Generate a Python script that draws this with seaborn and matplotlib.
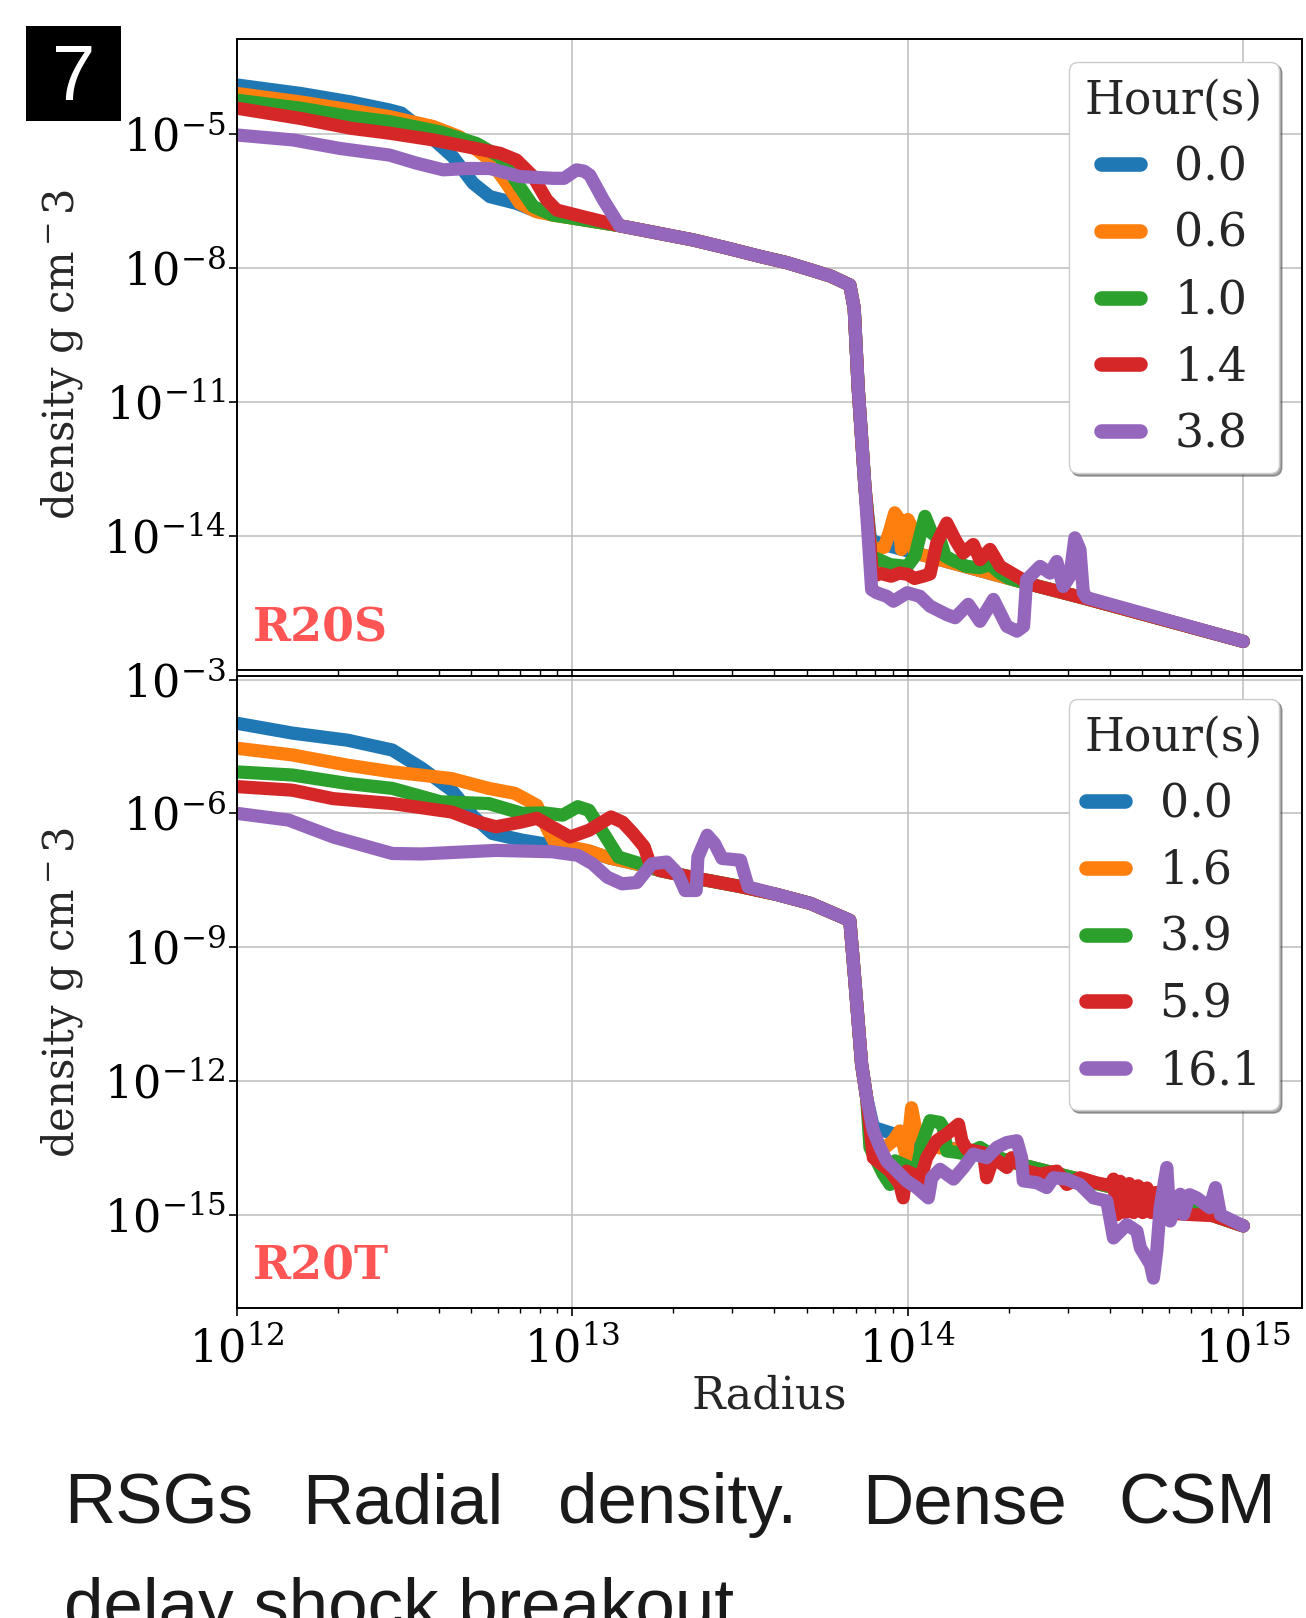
import matplotlib
matplotlib.use("Agg")
import numpy as np
import pandas as pd
import matplotlib.pyplot as plt
import matplotlib.ticker as mticker
from matplotlib.patches import Rectangle
import seaborn as sns

# ------------------------------------------------------------------
# Radial density profiles (log10 radius [cm], log10 density [g cm^-3])
# ------------------------------------------------------------------
COLORS = ["#1f77b4", "#ff7f0e", "#2ca02c", "#d62728", "#9467bd"]

# ---------------- R20S ----------------
S_HOURS = ["0.0", "0.6", "1.0", "1.4", "3.8"]

S_ENV_LOGR = [13.14, 13.25, 13.36, 13.46, 13.56, 13.64, 13.71, 13.77, 13.827]
S_ENV_LOGRHO = [-7.05, -7.21, -7.37, -7.55, -7.74, -7.88, -8.04, -8.18, -8.38]
S_DROP_LOGR = [13.84, 13.852, 13.872]
S_DROP_LOGRHO = [-8.9, -10.7, -12.9]
S_WIND_LOGR = [13.90, 14.35, 14.53, 15.0]
S_WIND_LOGRHO = [-14.13, -15.05, -15.40, -16.36]

S00_IN_LOGR = [12.0, 12.19, 12.34, 12.455, 12.49, 12.565, 12.644, 12.704, 12.754, 12.833, 12.883, 12.94]
S00_IN_LOGRHO = [-3.90, -4.09, -4.28, -4.46, -4.53, -4.98, -5.51, -6.10, -6.40, -6.55, -6.70, -6.80]
S00_CSM_LOGR = [13.888]
S00_CSM_LOGRHO = [-14.05]

S06_IN_LOGR = [12.0, 12.19, 12.34, 12.455, 12.585, 12.664, 12.754, 12.803, 12.843, 12.893, 12.94]
S06_IN_LOGRHO = [-4.09, -4.28, -4.46, -4.61, -4.83, -5.06, -5.58, -6.10, -6.55, -6.74, -6.81]
S06_CSM_LOGR = [13.888, 13.90, 13.93, 13.945, 13.961, 13.972, 13.981, 13.99, 14.0, 14.012, 14.021, 14.056]
S06_CSM_LOGRHO = [-14.2, -14.3, -14.25, -13.9, -13.48, -13.6, -14.30, -14.0, -13.63, -13.8, -14.38, -14.45]

S10_IN_LOGR = [12.0, 12.19, 12.34, 12.455, 12.605, 12.714, 12.784, 12.843, 12.883, 12.94]
S10_IN_LOGRHO = [-4.24, -4.42, -4.61, -4.72, -4.95, -5.21, -5.51, -6.18, -6.62, -6.81]
S10_CSM_LOGR = [13.89, 13.92, 13.947, 13.998, 14.021, 14.036, 14.051, 14.071, 14.096, 14.111,
                14.13, 14.175, 14.215, 14.245, 14.275, 14.30]
S10_CSM_LOGRHO = [-14.45, -14.55, -14.64, -14.68, -14.45, -14.0, -13.56, -13.93, -14.08, -14.45,
                  -14.53, -14.68, -14.71, -14.64, -14.83, -14.94]

S14_IN_LOGR = [12.0, 12.19, 12.34, 12.455, 12.585, 12.684, 12.784, 12.833, 12.883, 12.923, 12.953, 13.032]
S14_IN_LOGRHO = [-4.42, -4.65, -4.87, -4.98, -5.13, -5.28, -5.43, -5.58, -5.95, -6.47, -6.70, -6.85]
S14_CSM_LOGR = [13.895, 13.92, 13.95, 13.975, 14.0, 14.02, 14.045, 14.066, 14.086, 14.116, 14.141,
                14.165, 14.195, 14.215, 14.245, 14.275, 14.334, 14.36]
S14_CSM_LOGRHO = [-14.9, -14.84, -14.9, -14.83, -14.86, -14.95, -14.9, -14.85, -14.16, -13.71, -14.08,
                  -14.38, -14.19, -14.53, -14.30, -14.68, -14.94, -15.07]

S38_IN_LOGR = [12.0, 12.167, 12.306, 12.455, 12.535, 12.615, 12.684, 12.754, 12.843, 12.943, 12.975,
               13.012, 13.035, 13.052, 13.092]
S38_IN_LOGRHO = [-5.02, -5.13, -5.32, -5.47, -5.65, -5.80, -5.77, -5.77, -5.95, -5.99, -5.99,
                 -5.80, -5.83, -5.92, -6.47]
S38_CSM_LOGR = [13.892, 13.907, 13.937, 13.957, 13.998, 14.036, 14.066, 14.116, 14.141, 14.18, 14.215,
                14.255, 14.295, 14.325, 14.345, 14.354, 14.394, 14.424, 14.444, 14.463, 14.483, 14.498,
                14.513, 14.523, 14.533]
S38_CSM_LOGRHO = [-15.2, -15.27, -15.35, -15.46, -15.27, -15.35, -15.57, -15.76, -15.83, -15.53, -15.91,
                  -15.42, -16.02, -16.13, -16.02, -14.98, -14.68, -14.83, -14.57, -15.13, -14.90, -14.04,
                  -14.30, -15.27, -15.38]

# ---------------- R20T ----------------
T_HOURS = ["0.0", "1.6", "3.9", "5.9", "16.1"]

T_ENV_LOGR = [13.2, 13.26, 13.38, 13.5, 13.61, 13.71, 13.827]
T_ENV_LOGRHO = [-7.15, -7.28, -7.47, -7.64, -7.82, -8.02, -8.40]
T_DROP_LOGR = [13.842, 13.862, 13.877]
T_DROP_LOGRHO = [-9.75, -11.62, -12.37]
T_WIND_LOGR = [14.15, 14.215, 14.334, 14.493, 14.613, 14.732, 14.91, 15.0]
T_WIND_LOGRHO = [-13.53, -13.6, -13.87, -14.17, -14.39, -14.62, -15.02, -15.25]

T00_IN_LOGR = [12.0, 12.165, 12.33, 12.463, 12.551, 12.64, 12.706, 12.761, 12.85, 12.938, 13.049, 13.11]
T00_IN_LOGRHO = [-3.98, -4.20, -4.36, -4.58, -4.99, -5.48, -6.08, -6.45, -6.60, -6.71, -6.85, -7.0]
T00_CSM_LOGR = [13.897, 13.947, 14.026, 14.09]
T00_CSM_LOGRHO = [-13.04, -13.16, -13.38, -13.47]

T16_IN_LOGR = [12.0, 12.165, 12.33, 12.463, 12.64, 12.75, 12.828, 12.894, 12.927, 12.949, 13.049, 13.11]
T16_IN_LOGRHO = [-4.54, -4.69, -4.92, -5.07, -5.22, -5.44, -5.55, -5.82, -6.38, -6.68, -6.84, -7.0]
T16_CSM_LOGR = [13.89, 13.90, 13.93, 13.957, 13.976, 13.996, 14.011, 14.026, 14.05, 14.096]
T16_CSM_LOGRHO = [-13.2, -13.72, -13.5, -13.34, -13.12, -13.72, -12.6, -13.19, -13.4, -13.5]

T39_IN_LOGR = [12.0, 12.165, 12.33, 12.463, 12.607, 12.75, 12.85, 12.916, 12.971, 13.016, 13.049,
               13.093, 13.137, 13.203]
T39_IN_LOGRHO = [-5.07, -5.14, -5.33, -5.44, -5.74, -5.78, -6.0, -5.99, -6.04, -5.85, -5.93,
                 -6.45, -6.98, -7.13]
T39_CSM_LOGR = [13.887, 13.927, 13.947, 13.962, 14.006, 14.026, 14.041, 14.066, 14.096, 14.106,
                14.116, 14.146, 14.175, 14.215, 14.26]
T39_CSM_LOGRHO = [-13.49, -14.09, -14.32, -13.79, -13.94, -14.02, -13.42, -12.89, -12.93, -13.05,
                  -13.57, -13.6, -13.64, -13.49, -13.7]

T59_IN_LOGR = [12.0, 12.165, 12.287, 12.463, 12.64, 12.717, 12.772, 12.85, 12.894, 12.938, 12.993,
               13.049, 13.115, 13.15, 13.181, 13.214, 13.231]
T59_IN_LOGRHO = [-5.40, -5.48, -5.67, -5.78, -5.97, -6.19, -6.30, -6.19, -6.11, -6.30, -6.53,
                 -6.38, -6.08, -6.2, -6.45, -6.75, -7.13]
T59_CSM_LOGR = [13.897, 13.947, 13.976, 13.986, 13.996, 14.016, 14.036, 14.056, 14.086, 14.116, 14.151,
                14.161, 14.175, 14.225, 14.235, 14.255, 14.295, 14.31, 14.354, 14.394, 14.444, 14.474,
                14.513, 14.56, 14.605, 14.613, 14.623, 14.633, 14.648, 14.66, 14.673, 14.686, 14.70,
                14.713, 14.726, 14.74, 14.76, 14.832]
T59_CSM_LOGRHO = [-13.72, -14.02, -14.32, -14.62, -14.02, -14.09, -14.24, -13.72, -13.34, -13.19, -12.97,
                  -13.34, -13.53, -13.61, -14.17, -13.72, -13.94, -13.72, -14.02, -14.09, -14.02, -14.32,
                  -14.17, -14.28, -14.35, -14.2, -15.0, -14.25, -14.95, -14.3, -14.95, -14.35, -14.95,
                  -14.4, -14.95, -14.5, -14.95, -14.99]

T161_IN_LOGR = [12.0, 12.154, 12.287, 12.463, 12.551, 12.772, 12.938, 13.016, 13.06, 13.104, 13.148,
                13.192, 13.237, 13.281, 13.314, 13.336, 13.369, 13.374, 13.402, 13.424, 13.446, 13.501,
                13.524]
T161_IN_LOGRHO = [-6.0, -6.15, -6.53, -6.90, -6.91, -6.83, -6.86, -6.94, -7.13, -7.43, -7.58,
                  -7.55, -7.13, -7.09, -7.35, -7.73, -7.73, -6.98, -6.49, -6.68, -7.01, -7.05,
                  -7.65]
T161_CSM_LOGR = [13.897, 13.917, 13.937, 13.967, 13.996, 14.026, 14.061, 14.071, 14.096, 14.136, 14.166,
                 14.195, 14.235, 14.265, 14.295, 14.325, 14.339, 14.344, 14.384, 14.414, 14.434, 14.474,
                 14.513, 14.553, 14.593, 14.613, 14.653, 14.683, 14.693, 14.723, 14.732, 14.742, 14.752,
                 14.772, 14.782, 14.812, 14.822, 14.84, 14.861, 14.90, 14.917, 14.932, 15.0]
T161_CSM_LOGRHO = [-13.12, -13.49, -13.8, -14.02, -14.24, -14.39, -14.62, -14.17, -13.98, -14.2, -13.94,
                   -13.64, -13.72, -13.49, -13.38, -13.34, -13.72, -14.24, -14.28, -14.39, -14.17, -14.2,
                   -14.32, -14.62, -14.69, -15.52, -15.22, -15.37, -15.74, -16.11, -16.42, -15.82, -14.84,
                   -13.94, -15.14, -14.54, -14.99, -14.55, -14.62, -14.84, -14.39, -15.0, -15.25]


def after(xs, ys, x0):
    """Points of a shared segment lying beyond radius x0."""
    return [x for x in xs if x > x0], [y for x, y in zip(xs, ys) if x > x0]


def profile(inner, env, drop, csm, wind):
    """Chain inner, envelope, drop, CSM and wind pieces into one profile."""
    xs, ys = list(inner[0]), list(inner[1])
    ex, ey = after(env[0], env[1], xs[-1])
    xs += ex; ys += ey
    xs += drop[0]; ys += drop[1]
    xs += csm[0]; ys += csm[1]
    wx, wy = after(wind[0], wind[1], xs[-1])
    xs += wx; ys += wy
    return xs, ys


S_ENV = (S_ENV_LOGR, S_ENV_LOGRHO)
S_DROP = (S_DROP_LOGR, S_DROP_LOGRHO)
S_WIND = (S_WIND_LOGR, S_WIND_LOGRHO)
T_ENV = (T_ENV_LOGR, T_ENV_LOGRHO)
T_DROP = (T_DROP_LOGR, T_DROP_LOGRHO)
T_WIND = (T_WIND_LOGR, T_WIND_LOGRHO)

s_parts = [
    ((S00_IN_LOGR, S00_IN_LOGRHO), (S00_CSM_LOGR, S00_CSM_LOGRHO)),
    ((S06_IN_LOGR, S06_IN_LOGRHO), (S06_CSM_LOGR, S06_CSM_LOGRHO)),
    ((S10_IN_LOGR, S10_IN_LOGRHO), (S10_CSM_LOGR, S10_CSM_LOGRHO)),
    ((S14_IN_LOGR, S14_IN_LOGRHO), (S14_CSM_LOGR, S14_CSM_LOGRHO)),
    ((S38_IN_LOGR, S38_IN_LOGRHO), (S38_CSM_LOGR, S38_CSM_LOGRHO)),
]
t_parts = [
    ((T00_IN_LOGR, T00_IN_LOGRHO), (T00_CSM_LOGR, T00_CSM_LOGRHO)),
    ((T16_IN_LOGR, T16_IN_LOGRHO), (T16_CSM_LOGR, T16_CSM_LOGRHO)),
    ((T39_IN_LOGR, T39_IN_LOGRHO), (T39_CSM_LOGR, T39_CSM_LOGRHO)),
    ((T59_IN_LOGR, T59_IN_LOGRHO), (T59_CSM_LOGR, T59_CSM_LOGRHO)),
    ((T161_IN_LOGR, T161_IN_LOGRHO), (T161_CSM_LOGR, T161_CSM_LOGRHO)),
]


def build_frame(hours, parts, env, drop, wind):
    frames = []
    for hour, (inner, csm) in zip(hours, parts):
        xs, ys = profile(inner, env, drop, csm, wind)
        frames.append(pd.DataFrame({
            "radius": np.power(10.0, xs),
            "density": np.power(10.0, ys),
            "hour": hour,
        }))
    return pd.concat(frames, ignore_index=True)


df_s = build_frame(S_HOURS, s_parts, S_ENV, S_DROP, S_WIND)
df_t = build_frame(T_HOURS, t_parts, T_ENV, T_DROP, T_WIND)

# ------------------------------------------------------------------
# Style
# ------------------------------------------------------------------
sns.set_style("ticks")
plt.rcParams.update({
    "font.family": ["DejaVu Serif"],
    "mathtext.fontset": "dejavuserif",
    "axes.edgecolor": "black",
    "axes.linewidth": 1.4,
    "xtick.color": "black",
    "ytick.color": "black",
    "xtick.direction": "out",
    "ytick.direction": "out",
})

W, H = 1306, 1618
LW = 9.5
fig = plt.figure(figsize=(W / 100, H / 100), dpi=100)
fig.patch.set_facecolor("white")


def rect(left, top, right, bottom):
    return [left / W, 1 - bottom / H, (right - left) / W, (bottom - top) / H]


ax1 = fig.add_axes(rect(237, 39, 1302, 670))
ax2 = fig.add_axes(rect(237, 676, 1302, 1308), sharex=ax1)

panels = [
    (ax1, df_s, S_HOURS, "R20S", (10 ** -17.0, 10 ** -2.87), [1e-5, 1e-8, 1e-11, 1e-14]),
    (ax2, df_t, T_HOURS, "R20T", (10 ** -17.09, 10 ** -2.92), [1e-3, 1e-6, 1e-9, 1e-12, 1e-15]),
]

for ax, df, hours, tag, ylim, yticks in panels:
    ax.set_xscale("log")
    ax.set_yscale("log")
    sns.lineplot(data=df, x="radius", y="density", hue="hour", hue_order=hours,
                 palette=COLORS, estimator=None, sort=False, linewidth=LW,
                 solid_capstyle="round", solid_joinstyle="round", ax=ax)
    ax.set_xlim(1e12, 10 ** 15.175)
    ax.set_ylim(*ylim)
    ax.set_yticks(yticks)
    ax.yaxis.set_minor_locator(mticker.NullLocator())
    ax.xaxis.set_major_locator(mticker.LogLocator(base=10, numticks=10))
    ax.xaxis.set_minor_locator(mticker.LogLocator(base=10, subs=np.arange(2, 10), numticks=30))
    ax.grid(True, which="major", color="#bdbdbd", lw=1.1)
    ax.set_axisbelow(True)
    ax.tick_params(axis="both", which="major", labelsize=32, length=6, width=1.2, pad=2)
    ax.tick_params(axis="x", which="major", pad=8)
    ax.tick_params(axis="x", which="minor", length=3.5, width=1.0)
    ax.set_ylabel(r"density g cm$^-3$", fontsize=30, labelpad=13)
    for sp in ax.spines.values():
        sp.set_visible(True)
        sp.set_color("black")

    ax.text(0.015, 0.045, tag, transform=ax.transAxes, fontsize=33, fontweight="bold",
            color="#ff5555", family="DejaVu Serif")

    handles, labels = ax.get_legend_handles_labels()
    leg = ax.legend(handles, labels, title="Hour(s)", loc="upper right",
                    fontsize=33, title_fontsize=33, shadow=True, fancybox=True,
                    framealpha=1.0, edgecolor="#cccccc", handlelength=0.85,
                    handletextpad=0.75, labelspacing=0.47, borderpad=0.35,
                    borderaxespad=0.5)
    for h in leg.legend_handles:
        h.set_linewidth(LW + 1)

ax1.tick_params(axis="x", which="both", labelbottom=False)
ax2.set_xlabel("Radius", fontsize=32, labelpad=2)

# panel number badge
fig.patches.append(Rectangle((26 / W, 1 - 121 / H), 95 / W, 95 / H, transform=fig.transFigure,
                             facecolor="black", edgecolor="none"))
fig.text(73.5 / W, 1 - 79 / H, "7", color="white", fontsize=56, ha="center", va="center",
         family="Liberation Sans")

# caption
cap_kw = dict(fontsize=51, family="Liberation Sans", color="#1a1a1a", va="baseline")
base1 = 1 - 1523 / H
fig.text(64 / W, base1, "RSGs", ha="left", **cap_kw)
fig.text(302 / W, base1, "Radial", ha="left", **cap_kw)
fig.text(558 / W, base1, "density.", ha="left", **cap_kw)
fig.text(862 / W, base1, "Dense", ha="left", **cap_kw)
fig.text(1276 / W, base1, "CSM", ha="right", **cap_kw)
fig.text(64 / W, 1 - 1628 / H, "delay shock breakout", ha="left", **cap_kw)

fig.savefig("out.png", dpi=100, facecolor="white")
